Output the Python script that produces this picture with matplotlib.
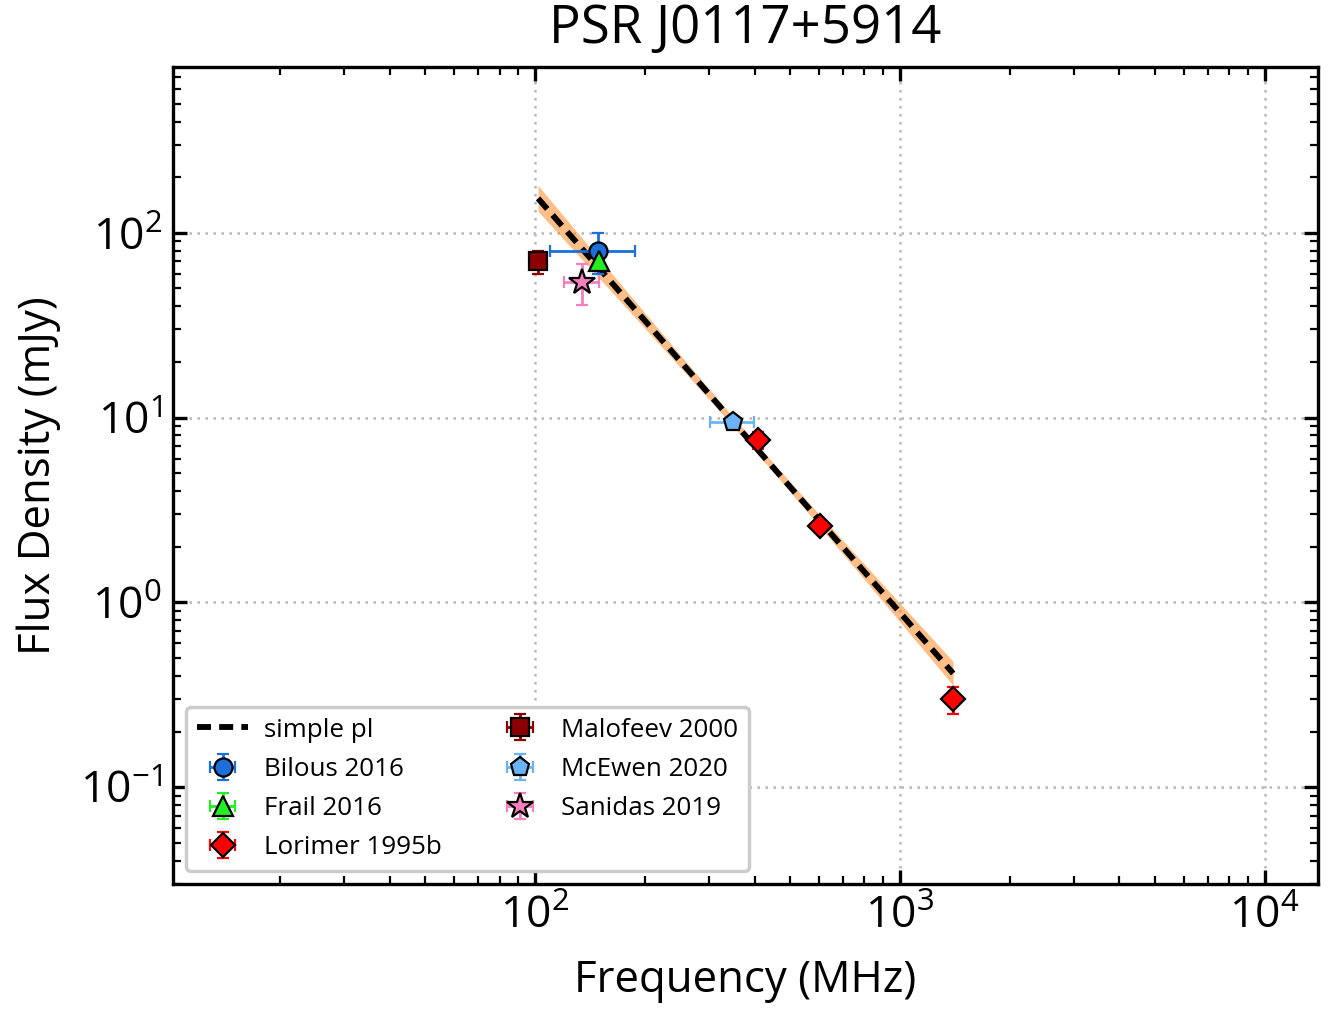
import numpy as np
import matplotlib
matplotlib.use('Agg')
import matplotlib.pyplot as plt

FONT = 'Open Sans'
plt.rcParams['font.family'] = [FONT, 'DejaVu Sans']
plt.rcParams['mathtext.fontset'] = 'custom'
plt.rcParams['mathtext.rm'] = FONT
plt.rcParams['mathtext.it'] = FONT
plt.rcParams['mathtext.bf'] = FONT

# observed flux densities: (freq MHz, freq err, flux mJy, flux err)
bilous_f, bilous_fe, bilous_s, bilous_se = [149.0], [39.0], [80.0], [20.0]
frail_f, frail_fe, frail_s, frail_se = [150.0], [0.0], [70.0], [7.0]
lorimer_f = [408.0, 606.0, 1400.0]
lorimer_fe = [0.0, 0.0, 0.0]
lorimer_s = [7.6, 2.6, 0.30]
lorimer_se = [0.8, 0.2, 0.05]
malofeev_f, malofeev_fe, malofeev_s, malofeev_se = [102.0], [0.0], [70.0], [10.0]
mcewen_f, mcewen_fe, mcewen_s, mcewen_se = [350.0], [48.0], [9.5], [0.5]
sanidas_f, sanidas_fe, sanidas_s, sanidas_se = [135.0], [15.0], [54.0], [13.5]

# simple power law fit: S = S0 * (nu / nu0) ** alpha
fit_nu0 = 400.0
fit_s0 = 7.0
fit_alpha = -2.26
fit_alpha_err = 0.11
fit_logs0_err = 0.025

sets = [
    ('Bilous 2016', bilous_f, bilous_fe, bilous_s, bilous_se, 'o', '#1a6fd8', 13),
    ('Frail 2016', frail_f, frail_fe, frail_s, frail_se, '^', '#22ee22', 14),
    ('Lorimer 1995b', lorimer_f, lorimer_fe, lorimer_s, lorimer_se, 'D', '#ff0000', 12),
    ('Malofeev 2000', malofeev_f, malofeev_fe, malofeev_s, malofeev_se, 's', '#8b0000', 13),
    ('McEwen 2020', mcewen_f, mcewen_fe, mcewen_s, mcewen_se, 'p', '#6ab4f5', 14),
    ('Sanidas 2019', sanidas_f, sanidas_fe, sanidas_s, sanidas_se, '*', '#f77fbe', 19),
]

fig = plt.figure(figsize=(13.32, 10.10), dpi=100)
ax = fig.add_axes([0.130, 0.125, 0.8595, 0.8087])

all_f = malofeev_f + lorimer_f
nu = np.logspace(np.log10(min(all_f)), np.log10(max(all_f)), 200)
x = np.log10(nu / fit_nu0)
model = fit_s0 * (nu / fit_nu0) ** fit_alpha
sig = np.sqrt(fit_logs0_err ** 2 + (fit_alpha_err * x) ** 2)
ax.fill_between(nu, model * 10 ** (-sig), model * 10 ** sig, color='C1', alpha=0.5,
                linewidth=0, zorder=2)
ax.plot(nu, model, '--', color='k', linewidth=4.2, dashes=(2.4, 1.4), label='simple pl', zorder=3)

for name, f, fe, s, se, mk, c, ms in sets:
    ax.errorbar(f, s, xerr=fe, yerr=se, fmt=mk, color=c, ecolor=c, markersize=ms,
                markeredgecolor='k', markeredgewidth=1.6, elinewidth=2, capsize=4.5,
                capthick=2.2, label=name, zorder=4)

ax.set_xscale('log')
ax.set_yscale('log')
ax.set_xlim(10.2, 14000)
ax.set_ylim(0.03, 790)

ax.grid(True, which='major', linestyle=(0, (1, 2.2)), color='#b8b8b8', linewidth=1.8)
ax.tick_params(which='both', direction='in', top=True, right=True, labelsize=32, pad=8)
ax.tick_params(which='major', length=10, width=2.4)
ax.tick_params(which='minor', length=6, width=1.6)
for sp in ax.spines.values():
    sp.set_linewidth(2.4)

ax.set_xlabel('Frequency (MHz)', fontsize=31.5, labelpad=14)
ax.set_ylabel('Flux Density (mJy)', fontsize=31.5, labelpad=14)
ax.set_title('PSR J0117+5914', fontsize=38, pad=17)

leg = ax.legend(loc='lower left', ncol=2, fontsize=18.7, frameon=True, fancybox=True,
                edgecolor='#cccccc', framealpha=1.0, labelspacing=0.55, handletextpad=0.6)
leg.get_frame().set_linewidth(2.5)

fig.savefig('out.png', dpi=100)
